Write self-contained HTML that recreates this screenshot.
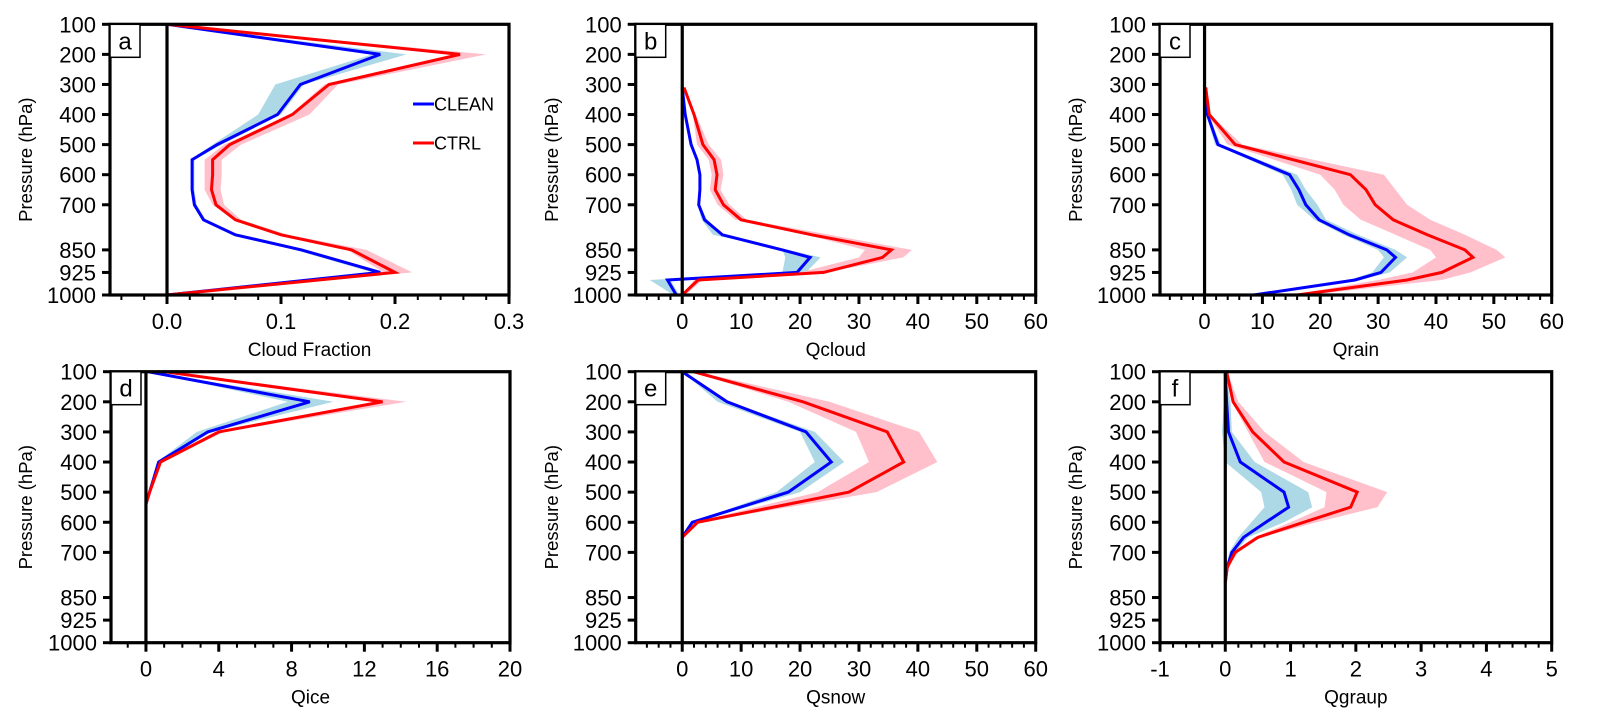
<!DOCTYPE html>
<html><head><meta charset="utf-8">
<style>
html,body{margin:0;padding:0;background:#fff;}
svg{display:block;font-family:"Liberation Sans",Arial,sans-serif;}
</style></head>
<body>
<svg id="chart" width="1600" height="728" viewBox="0 0 1600 728" xmlns="http://www.w3.org/2000/svg"></svg>
<script>
// ---- data (pressure levels in hPa, values per series) ----
const yTicks = [100,200,300,400,500,600,700,850,925,1000];

const aLev = [100,200,300,400,500,550,600,650,700,750,800,850,925,1000];
const aClean = [0,0.187,0.117,0.097,0.044,0.022,0.022,0.022,0.024,0.032,0.06,0.118,0.187,0];
const aCleanLo = [0,0.18,0.095,0.08,0.04,0.021,0.021,0.021,0.023,0.031,0.058,0.112,0.18,0];
const aCleanHi = [0,0.21,0.12,0.1,0.048,0.024,0.024,0.024,0.026,0.034,0.062,0.121,0.19,0];
const aCtrl = [0,0.257,0.142,0.11,0.055,0.04,0.04,0.039,0.043,0.06,0.1,0.162,0.2,0];
const aCtrlLo = [0,0.25,0.138,0.108,0.05,0.033,0.033,0.033,0.04,0.058,0.097,0.158,0.19,0];
const aCtrlHi = [0,0.28,0.15,0.125,0.065,0.048,0.048,0.047,0.05,0.065,0.106,0.175,0.215,0];

const bLev = [310,400,500,550,600,650,700,750,800,850,875,925,950,1000];
const bClean = [0,0.5,1.5,2.5,3,3,2.8,3.8,6.8,17,21.7,19.5,-2.5,-1];
const bCleanLo = [0,0.4,1.3,2.3,2.8,2.8,2.6,3.3,5.2,17,17.5,17,-5.5,-1.5];
const bCleanHi = [0,0.6,1.7,2.7,3.2,3.2,3,4.2,7,18,23.5,21,-2,-0.5];
const bCtrl = [0.3,2,3.5,5.4,5.9,5.6,7,10,22,35.5,34,24,2.7,0];
const bCtrlLo = [0.2,1.8,2.5,4.5,5,4.7,6,9,21,31,30,20,2,0];
const bCtrlHi = [0.4,2.3,4.5,6.6,7,6.5,8,11,25,39,37.5,24.5,3.5,0.5];

const cLev = [310,400,500,600,650,700,750,800,850,875,925,950,1000];
const cClean = [0.2,0.5,2.3,14.7,16.3,17.5,19.8,25,31.5,33,30.5,26,8.5];
const cCleanLo = [0.1,0.3,1.8,13.5,15,16,19,24,30,31,29,25,8];
const cCleanHi = [0.3,0.7,2.8,16,17.5,19.5,21,26.5,33,35,32,27,9];
const cCtrl = [0.2,0.8,5.3,25.2,27.9,29.5,32.6,38.5,45,46.4,41,35,16];
const cCtrlLo = [0.1,0.5,4,20,22.5,24,27,33,39,40,36,30,15];
const cCtrlHi = [0.3,1,6.5,31,33,35,39,45,50.5,52,46,41,18];

const dLev = [100,200,300,400,500,540];
const dClean = [0.1,9.0,3.4,0.7,0.2,0];
const dCleanLo = [0.1,7.8,2.8,0.6,0.15,0];
const dCleanHi = [0.2,10.3,3.6,0.8,0.25,0];
const dCtrl = [1.0,13.0,4.0,0.8,0.2,0];
const dCtrlLo = [0.8,12.5,3.8,0.7,0.15,0];
const dCtrlHi = [1.2,14.3,4.3,0.9,0.25,0];

const eLev = [100,200,300,400,500,600,650];
const eClean = [0,7.6,21,25.3,18,1.7,0];
const eCleanLo = [0,6,20,22.5,16,1.5,0];
const eCleanHi = [0.2,8,22.5,27.5,20,2,0];
const eCtrl = [1.9,20.5,34.8,37.6,28.3,2.6,0];
const eCtrlLo = [1.5,18,29.5,31.7,23,2,0];
const eCtrlHi = [2.5,25,40.2,43.3,33,3,0];

const fLev = [100,200,300,400,500,550,600,650,700,750,800];
const fClean = [0,0.02,0.05,0.23,0.9,0.97,0.62,0.28,0.1,0.03,0];
const fCleanLo = [0,-0.02,-0.05,0,0.55,0.6,0.4,0.2,0.06,0.02,0];
const fCleanHi = [0,0.08,0.1,0.45,1.27,1.33,0.9,0.35,0.15,0.04,0];
const fCtrl = [0.02,0.12,0.42,0.9,2.02,1.92,1.2,0.5,0.15,0.03,0];
const fCtrlLo = [0.01,0.1,0.35,0.6,1.55,1.52,1.0,0.45,0.12,0.02,0];
const fCtrlHi = [0.03,0.2,0.6,1.2,2.48,2.33,1.4,0.55,0.2,0.04,0];

const aXTicks = ['0.0','0.1','0.2','0.3'];
const bXTicks = ['0','10','20','30','40','50','60'];
const cXTicks = ['0','10','20','30','40','50','60'];
const dXTicks = ['0','4','8','12','16','20'];
const eXTicks = ['0','10','20','30','40','50','60'];
const fXTicks = ['-1','0','1','2','3','4','5'];

// ---- layout ----
const NS = 'http://www.w3.org/2000/svg';
const svg = document.getElementById('chart');
function mk(tag, attrs, parent){
  const e = document.createElementNS(NS, tag);
  for (const k in attrs) e.setAttribute(k, attrs[k]);
  (parent||svg).appendChild(e);
  return e;
}
const panels = [
  {id:'a', L:110, R:509, T:24.3, B:295, xmin:-0.05, xmax:0.3, minor:0.02, ticks:aXTicks, title:'Cloud Fraction', ylx:26, lev:aLev, cl:aClean, clLo:aCleanLo, clHi:aCleanHi, ct:aCtrl, ctLo:aCtrlLo, ctHi:aCtrlHi, legend:true},
  {id:'b', L:635.7, R:1035.7, T:24.3, B:295, xmin:-7.9, xmax:60, minor:2, ticks:bXTicks, title:'Qcloud', ylx:552, lev:bLev, cl:bClean, clLo:bCleanLo, clHi:bCleanHi, ct:bCtrl, ctLo:bCtrlLo, ctHi:bCtrlHi},
  {id:'c', L:1160, R:1551.7, T:24.3, B:295, xmin:-7.7, xmax:60, minor:2, ticks:cXTicks, title:'Qrain', ylx:1076, lev:cLev, cl:cClean, clLo:cCleanLo, clHi:cCleanHi, ct:cCtrl, ctLo:cCtrlLo, ctHi:cCtrlHi},
  {id:'d', L:111, R:510, T:371.7, B:642.7, xmin:-1.92, xmax:20, minor:1, ticks:dXTicks, title:'Qice', ylx:26, lev:dLev, cl:dClean, clLo:dCleanLo, clHi:dCleanHi, ct:dCtrl, ctLo:dCtrlLo, ctHi:dCtrlHi},
  {id:'e', L:635.7, R:1035.7, T:371.7, B:642.7, xmin:-7.9, xmax:60, minor:2, ticks:eXTicks, title:'Qsnow', ylx:552, lev:eLev, cl:eClean, clLo:eCleanLo, clHi:eCleanHi, ct:eCtrl, ctLo:eCtrlLo, ctHi:eCtrlHi},
  {id:'f', L:1160, R:1551.7, T:371.7, B:642.7, xmin:-1, xmax:5, minor:0.2, ticks:fXTicks, title:'Qgraup', ylx:1076, lev:fLev, cl:fClean, clLo:fCleanLo, clHi:fCleanHi, ct:fCtrl, ctLo:fCtrlLo, ctHi:fCtrlHi}
];

panels.forEach(p=>{
  const X = v => p.L + (v - p.xmin)/(p.xmax - p.xmin)*(p.R - p.L);
  const Y = pr => p.T + (pr - 100)/900*(p.B - p.T);
  const g = mk('g', {});
  
  
  const clipId = 'clip' + p.id;
  const cp = mk('clipPath', {id:clipId}, g);
  mk('rect', {x:p.L, y:p.T, width:p.R-p.L, height:p.B-p.T}, cp);
  const plot = mk('g', {'clip-path':'url(#'+clipId+')'}, g);

  function band(lo, hi, color, name){
    let pts = [];
    for (let i=0;i<p.lev.length;i++) pts.push(X(lo[i]).toFixed(1)+','+Y(p.lev[i]).toFixed(1));
    for (let i=p.lev.length-1;i>=0;i--) pts.push(X(hi[i]).toFixed(1)+','+Y(p.lev[i]).toFixed(1));
    const el = mk('polygon', {points:pts.join(' '), fill:color, stroke:'none'}, plot);
    
    
  }
  function line(vals, color, name){
    const pts = vals.map((v,i)=>X(v).toFixed(1)+','+Y(p.lev[i]).toFixed(1)).join(' ');
    const el = mk('polyline', {points:pts, fill:'none', stroke:color, 'stroke-width':3, 'stroke-linejoin':'miter'}, plot);
    
    
  }
  band(p.clLo, p.clHi, '#add8e6', 'clean-spread-band');
  band(p.ctLo, p.ctHi, '#ffc0cb', 'ctrl-spread-band');
  const z = mk('line', {x1:X(0), x2:X(0), y1:p.T, y2:p.B, stroke:'#000', 'stroke-width':3.2}, g);
  
  
  line(p.cl, '#0000ff', 'clean-line');
  line(p.ct, '#ff0000', 'ctrl-line');

  const fr = mk('rect', {x:p.L, y:p.T, width:p.R-p.L, height:p.B-p.T, fill:'none', stroke:'#000', 'stroke-width':3.2}, g);
  
  

  yTicks.forEach(t=>{
    const y = Y(t);
    mk('line', {x1:p.L-8, x2:p.L, y1:y, y2:y, stroke:'#000', 'stroke-width':3}, g);
    const tx = mk('text', {x:p.L-14, y:y+8, 'text-anchor':'end', 'font-size':22, fill:'#000'}, g);
    tx.textContent = t;
    
    
  });
  for (let v = Math.ceil(p.xmin/p.minor-1e-6)*p.minor; v <= p.xmax+1e-9; v += p.minor){
    const x = X(v);
    if (x < p.L-0.5) continue;
    mk('line', {x1:x, x2:x, y1:p.B, y2:p.B+5, stroke:'#000', 'stroke-width':2}, g);
  }
  p.ticks.forEach(lbl=>{
    const v = parseFloat(lbl);
    const x = X(v);
    mk('line', {x1:x, x2:x, y1:p.B, y2:p.B+9, stroke:'#000', 'stroke-width':3}, g);
    const tx = mk('text', {x:x, y:p.B+34, 'text-anchor':'middle', 'font-size':22, fill:'#000'}, g);
    tx.textContent = lbl;
    
    
  });
  const xt = mk('text', {x:(p.L+p.R)/2, y:p.B+61, 'text-anchor':'middle', 'font-size':19, fill:'#000'}, g);
  xt.textContent = p.title;
  
  
  const ym = (p.T+p.B)/2;
  const yt = mk('text', {x:p.ylx, y:ym, 'text-anchor':'middle', 'font-size':18.5, fill:'#000', transform:'rotate(-90 '+(p.ylx)+' '+ym+')', dy:6}, g);
  yt.textContent = 'Pressure (hPa)';
  
  
  const lb = mk('rect', {x:p.L, y:p.T, width:30, height:33, fill:'#fff', stroke:'#000', 'stroke-width':1.5}, g);
  
  
  const lt = mk('text', {x:p.L+15, y:p.T+25, 'text-anchor':'middle', 'font-size':24, fill:'#000'}, g);
  lt.textContent = p.id;
  
  

  if (p.legend){
    [['CLEAN','#0000ff',104],['CTRL','#ff0000',143]].forEach(e=>{
      const lg = mk('g', {}, g);
      
      
      mk('line', {x1:413, x2:434, y1:e[2], y2:e[2], stroke:e[1], 'stroke-width':3}, lg);
      const t = mk('text', {x:434, y:e[2]+6.5, 'font-size':18, fill:'#000'}, lg);
      t.textContent = e[0];
    });
  }
});
</script>
</body></html>
